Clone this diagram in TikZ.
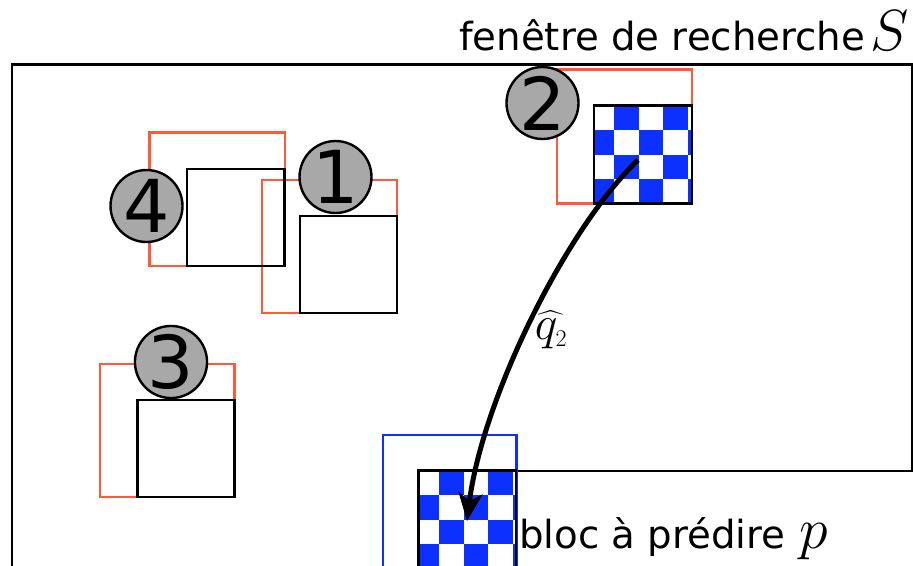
\RequirePackage{fix-cm}
\documentclass[tikz,border=0pt]{standalone}
\usepackage{exscale}
\usepackage[no-math]{fontspec}
\setmainfont{DejaVu Sans}
\usetikzlibrary{arrows.meta}

\definecolor{zonered}{RGB}{255,88,58}
\definecolor{chkblue}{RGB}{12,48,255}
\definecolor{discgray}{RGB}{168,168,168}

\tikzset{
  frameline/.style={draw=black, line width=2.6pt},
  zoneline/.style={draw=zonered, line width=2.6pt},
  blockline/.style={draw=black, line width=2.8pt},
  predline/.style={draw=chkblue, line width=2.6pt},
  numdisc/.style={circle, draw=black, line width=2.4pt, fill=discgray,
    minimum size=72pt, inner sep=0pt, font=\fontsize{73}{73}\selectfont},
  vecarrow/.style={line width=5pt, -{Stealth[length=28pt,width=24pt,inset=8pt]}},
  textlabel/.style={anchor=base west, inner sep=0pt, font=\fontsize{38.7}{40}\selectfont},
  mathlabel/.style={anchor=base west, inner sep=0pt, font=\fontsize{58}{60}\selectfont},
}

% checkerboard of 24.5pt cells clipped to a 98pt block
% #1,#2: top-left corner of the block; #3,#4: origin of the cell grid
\newcommand\checkerblock[4]{%
  \begin{scope}
    \clip (#1,#2) rectangle ++(98,98);
    \foreach \i in {0,...,4}{
      \foreach \j in {0,...,4}{
        \pgfmathtruncatemacro\cellodd{mod(\i+\j,2)}
        \ifnum\cellodd=1
          \fill[chkblue] ({#3+24.5*\i},{#4+24.5*\j}) rectangle ++(24.5,24.5);
        \fi
      }
    }
  \end{scope}%
}

\begin{document}
\begin{tikzpicture}[x=1pt, y=-1pt]
  \path[use as bounding box, clip] (0,0) rectangle (913,565);

  % search window outline
  \draw[frameline] (516,471) -- (912,471) -- (912,64.5) -- (12,64.5) -- (12,590);

  % candidate zones
  \draw[zoneline] (149.5,132.5) rectangle (285,266);
  \draw[zoneline] (262,180) rectangle (397,313);
  \draw[zoneline] (557,69.5) rectangle (692,203.5);
  \draw[zoneline] (100,364) rectangle (234.5,497);

  % zone of the block to predict
  \draw[predline] (383,435) rectangle (516.5,600);

  % textured blocks
  \checkerblock{594}{105.5}{589.5}{105.5}
  \checkerblock{418.5}{470.5}{414.5}{470.5}

  % candidate blocks
  \draw[blockline] (187,169) rectangle (284.5,266);
  \draw[blockline] (300,216) rectangle (397,313);
  \draw[blockline] (594,105.5) rectangle (692,203.5);
  \draw[blockline] (137.5,400) rectangle (234.5,497);
  \draw[blockline] (418.5,470.5) rectangle (516,600);

  % numbered discs
  \node[numdisc] (d1) at (335.5,177) {1};
  \node[numdisc] (d2) at (542.5,103) {2};
  \node[numdisc] (d3) at (171,362) {3};
  \node[numdisc] (d4) at (146.5,206) {4};

  % motion vector
  \coordinate (qsrc) at (638,160);
  \coordinate (qdst) at (467,521);
  \draw[vecarrow] (qsrc) .. controls (565,230) and (482,400) .. (qdst);
  \node[font=\fontsize{48}{50}\selectfont, inner sep=0pt] (qlab) at (551,329.5)
    {$\widehat{q_{\scriptscriptstyle 2}}$};

  % labels
  \node[textlabel] (swin) at (459,50) {fenêtre de recherche};
  \node[mathlabel] (ssym) at (870,50) {$S$};
  \node[textlabel] (pblk) at (519,548) {bloc à prédire};
  \node[mathlabel] (psym) at (799,548) {$p$};
\end{tikzpicture}
\end{document}
